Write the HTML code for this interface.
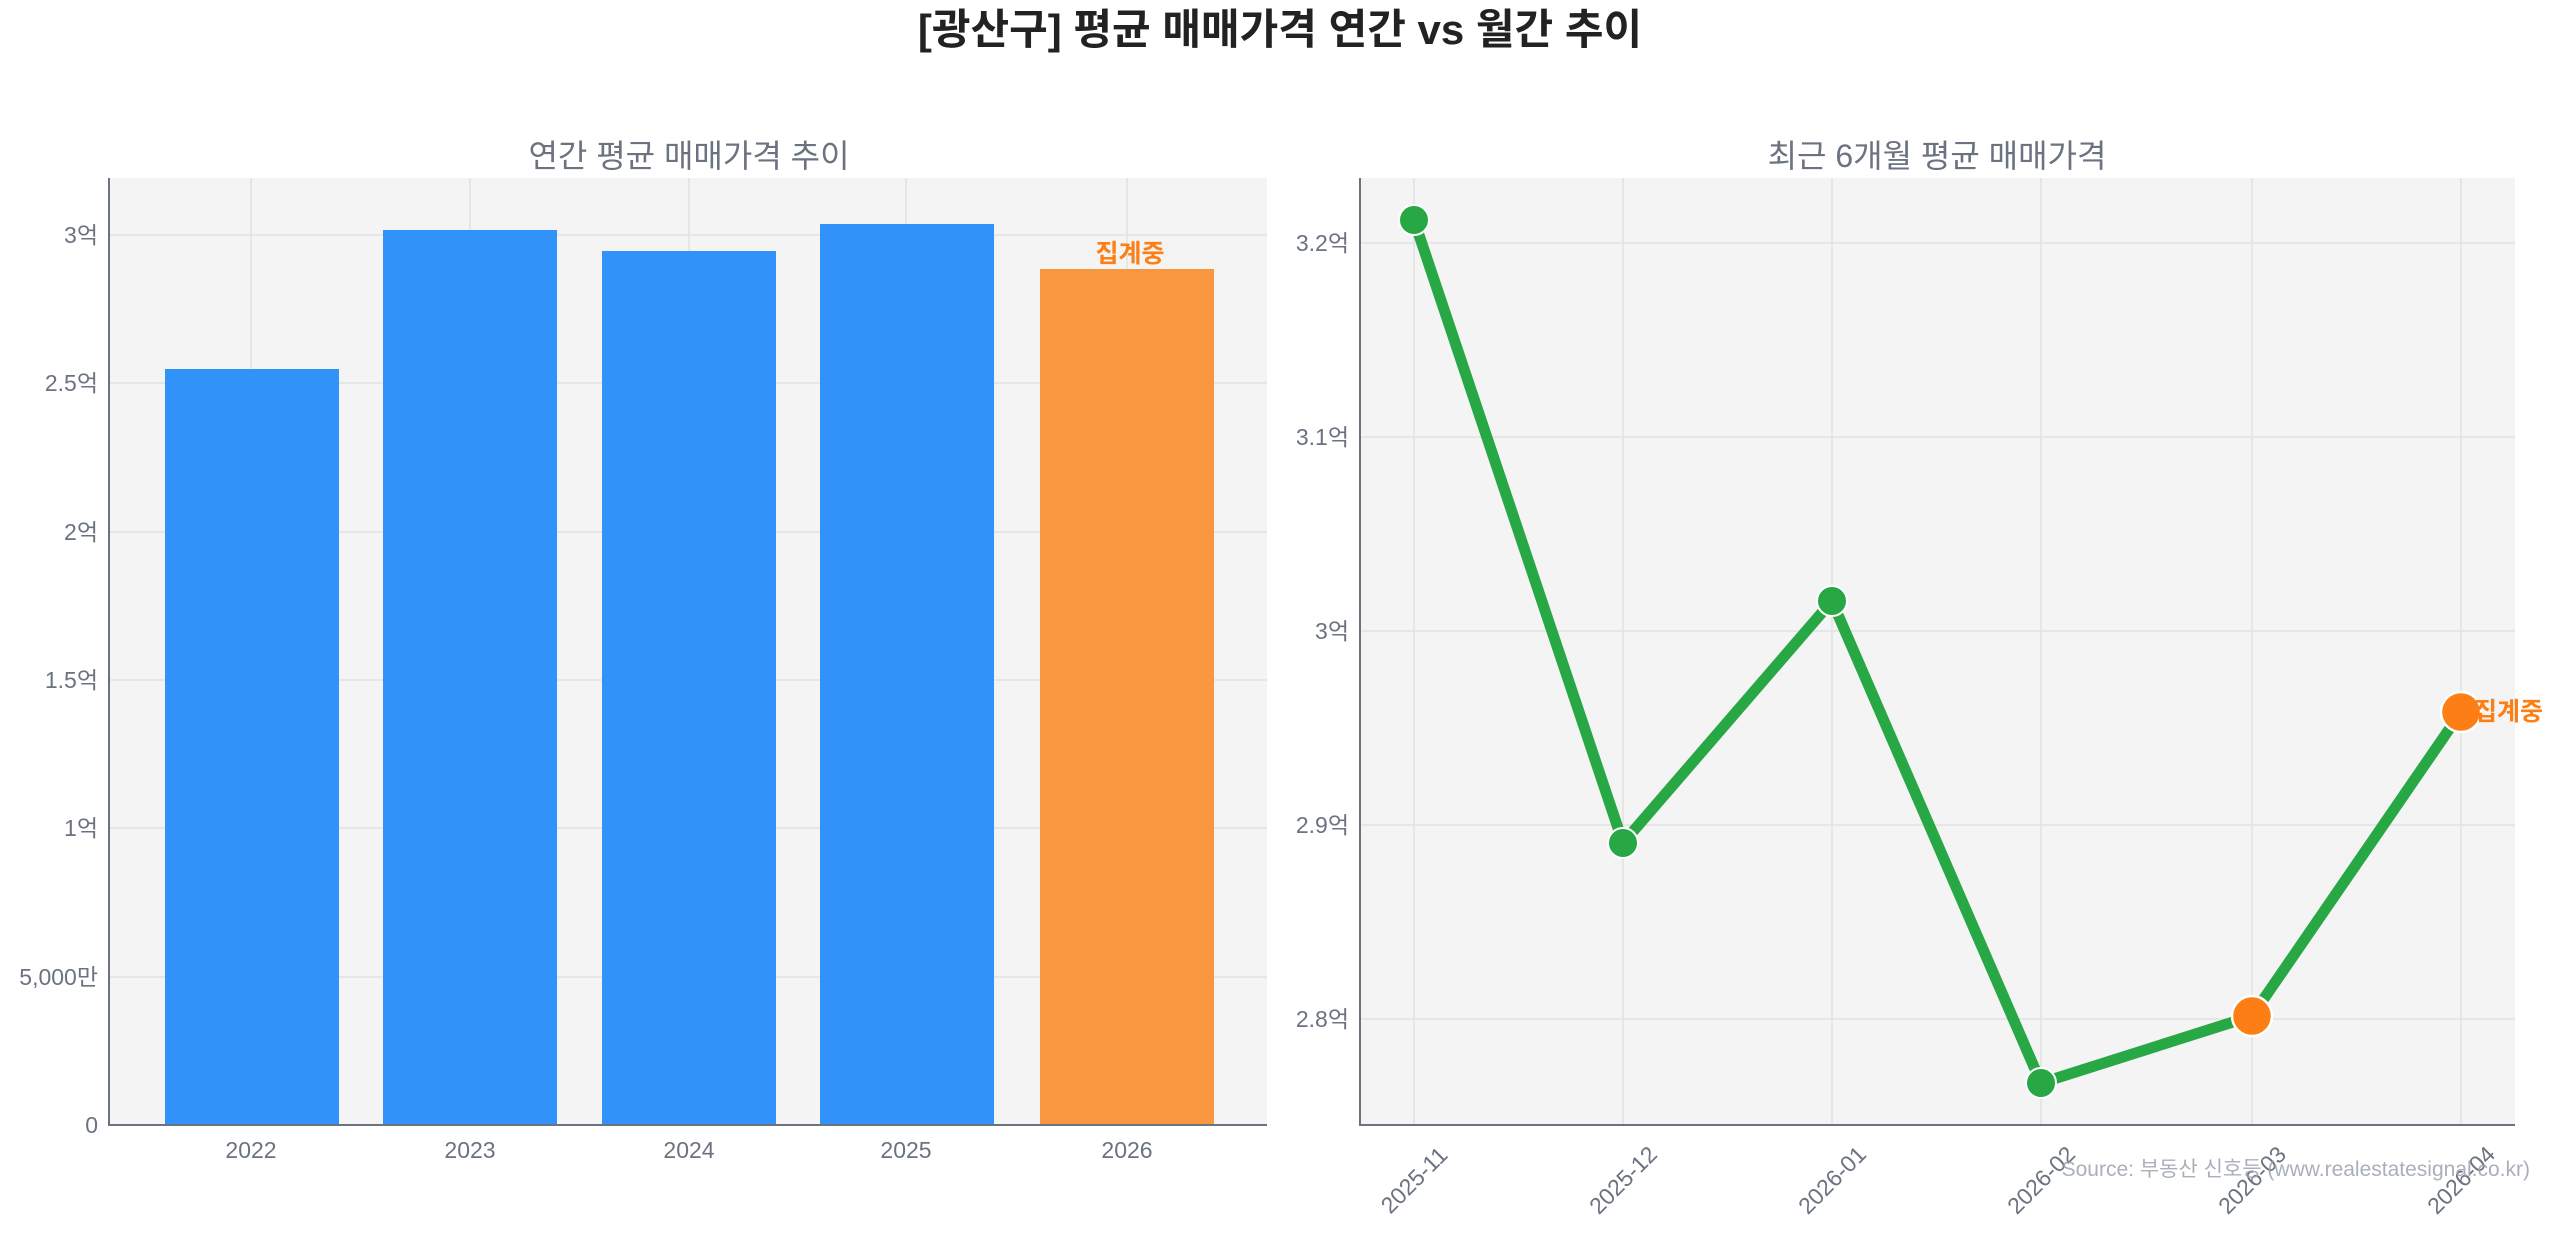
<!DOCTYPE html>
<html><head><meta charset="utf-8"><style>
html,body{margin:0;padding:0;background:#fff}
svg{display:block}
text{font-family:"Liberation Sans","Noto Sans CJK KR",sans-serif}
</style></head><body>
<svg width="2560" height="1234" viewBox="0 0 2560 1234" xmlns="http://www.w3.org/2000/svg">
<text x="1280" y="44" text-anchor="middle" font-size="42" font-weight="bold" fill="#222">[광산구] 평균 매매가격 연간 vs 월간 추이</text>

<!-- Left -->
<rect x="109" y="178" width="1158" height="947" fill="#f4f4f4"/>
<g stroke="#e2e2e2" stroke-width="1.5">
<line x1="251" y1="178" x2="251" y2="1125"/><line x1="470" y1="178" x2="470" y2="1125"/><line x1="689" y1="178" x2="689" y2="1125"/><line x1="906" y1="178" x2="906" y2="1125"/><line x1="1127" y1="178" x2="1127" y2="1125"/>
<line x1="109" y1="235" x2="1267" y2="235"/><line x1="109" y1="383" x2="1267" y2="383"/><line x1="109" y1="532" x2="1267" y2="532"/><line x1="109" y1="680" x2="1267" y2="680"/><line x1="109" y1="828" x2="1267" y2="828"/><line x1="109" y1="977" x2="1267" y2="977"/>
</g>
<text x="689" y="167" text-anchor="middle" font-size="32" fill="#6b7280">연간 평균 매매가격 추이</text>
<g fill="#3193fa">
<rect x="165" y="369" width="174" height="756"/>
<rect x="383" y="230" width="174" height="895"/>
<rect x="602" y="251" width="174" height="874"/>
<rect x="820" y="224" width="174" height="901"/>
</g>
<rect x="1040" y="269" width="174" height="856" fill="#f99640"/>
<text x="1130" y="262" text-anchor="middle" font-size="25" font-weight="bold" fill="#fd7e14">집계중</text>
<g stroke="#6b7280" stroke-width="2"><line x1="109" y1="178" x2="109" y2="1125"/><line x1="108" y1="1125" x2="1267" y2="1125"/></g>
<g font-size="23" fill="#6b7280" text-anchor="end">
<text x="98" y="1133">0</text><text x="98" y="985">5,000만</text><text x="98" y="836">1억</text><text x="98" y="688">1.5억</text><text x="98" y="540">2억</text><text x="98" y="391">2.5억</text><text x="98" y="243">3억</text>
</g>
<g font-size="23" fill="#6b7280" text-anchor="middle">
<text x="251" y="1158">2022</text><text x="470" y="1158">2023</text><text x="689" y="1158">2024</text><text x="906" y="1158">2025</text><text x="1127" y="1158">2026</text>
</g>

<!-- Right -->
<rect x="1360" y="178" width="1155" height="947" fill="#f4f4f4"/>
<g stroke="#e2e2e2" stroke-width="1.5">
<line x1="1414" y1="178" x2="1414" y2="1125"/><line x1="1623" y1="178" x2="1623" y2="1125"/><line x1="1832" y1="178" x2="1832" y2="1125"/><line x1="2041" y1="178" x2="2041" y2="1125"/><line x1="2252" y1="178" x2="2252" y2="1125"/><line x1="2461" y1="178" x2="2461" y2="1125"/>
<line x1="1360" y1="243" x2="2515" y2="243"/><line x1="1360" y1="437" x2="2515" y2="437"/><line x1="1360" y1="631" x2="2515" y2="631"/><line x1="1360" y1="825" x2="2515" y2="825"/><line x1="1360" y1="1019" x2="2515" y2="1019"/>
</g>
<text x="1937" y="167" text-anchor="middle" font-size="32" fill="#6b7280">최근 6개월 평균 매매가격</text>
<polyline points="1414,220 1623,843 1832,601 2041,1083 2252,1016 2461,712" fill="none" stroke="#28a745" stroke-width="11" stroke-linejoin="round"/>
<g fill="#28a745" stroke="#fff" stroke-width="2">
<circle cx="1414" cy="220" r="15"/><circle cx="1623" cy="843" r="15"/><circle cx="1832" cy="601" r="15"/><circle cx="2041" cy="1083" r="15"/>
</g>
<g fill="#fd7e14" stroke="#fff" stroke-width="2.5">
<circle cx="2252" cy="1016" r="20"/><circle cx="2461" cy="712" r="20"/>
</g>
<text x="2474" y="720" font-size="25" font-weight="bold" fill="#fd7e14">집계중</text>
<g stroke="#6b7280" stroke-width="2"><line x1="1360" y1="178" x2="1360" y2="1125"/><line x1="1359" y1="1125" x2="2515" y2="1125"/></g>
<g font-size="23" fill="#6b7280" text-anchor="end">
<text x="1349" y="251">3.2억</text><text x="1349" y="445">3.1억</text><text x="1349" y="639">3억</text><text x="1349" y="833">2.9억</text><text x="1349" y="1027">2.8억</text>
</g>
<g font-size="23" fill="#6b7280" text-anchor="middle">
<text transform="translate(1414,1180) rotate(-45)" y="8">2025-11</text>
<text transform="translate(1623,1180) rotate(-45)" y="8">2025-12</text>
<text transform="translate(1832,1180) rotate(-45)" y="8">2026-01</text>
<text transform="translate(2041,1180) rotate(-45)" y="8">2026-02</text>
<text transform="translate(2252,1180) rotate(-45)" y="8">2026-03</text>
<text transform="translate(2461,1180) rotate(-45)" y="8">2026-04</text>
</g>
<text x="2530" y="1176" text-anchor="end" font-size="21" fill="#9ca3af" opacity="0.85">Source: 부동산 신호등 (www.realestatesignal.co.kr)</text>
</svg>
</body></html>
